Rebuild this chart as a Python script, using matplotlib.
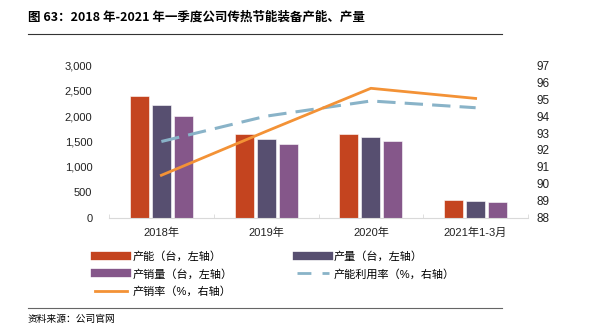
import numpy as np
import matplotlib
matplotlib.use("Agg")
import matplotlib.pyplot as plt
from matplotlib.lines import Line2D

plt.rcParams['font.family'] = ['Liberation Sans', 'Noto Sans CJK SC']

# data
years = ["2018年", "2019年", "2020年", "2021年1-3月"]
capacity = [2390, 1650, 1650, 340]        # 产能（台）
output = [2220, 1545, 1585, 325]          # 产量（台）
sales = [2010, 1445, 1515, 305]           # 产销量（台）
util_rate = [92.5, 94.0, 94.9, 94.5]      # 产能利用率 %
sales_rate = [90.5, 93.1, 95.65, 95.05]   # 产销率 %

c_cap = "#C4441F"
c_out = "#574F70"
c_sal = "#85578A"
c_util = "#89B3C8"
c_rate = "#F39236"

fig = plt.figure(figsize=(6.14, 3.32), dpi=100)
W, H = 614, 332
ax = fig.add_axes([109 / W, 1 - 217.5 / H, (528 - 109) / W, (217.5 - 65.5) / H])
ax2 = ax.twinx()

x = np.arange(len(years))
bw = 0.18
gap = 0.03
ax.bar(x - bw - gap, capacity, bw, color=c_cap, edgecolor="white", linewidth=0.4, zorder=2)
ax.bar(x, output, bw, color=c_out, edgecolor="white", linewidth=0.4, zorder=2)
ax.bar(x + bw + gap, sales, bw, color=c_sal, edgecolor="white", linewidth=0.4, zorder=2)

ax2.plot(x, util_rate, color=c_util, lw=2.2, dashes=(6, 3), zorder=3)
ax2.plot(x, sales_rate, color=c_rate, lw=2.0, zorder=3)

ax.set_xlim(-0.5, 3.5)
ax.set_ylim(0, 3000)
ax.set_yticks(range(0, 3001, 500))
ax.set_yticklabels([f"{v:,}" for v in range(0, 3001, 500)])
ax2.set_ylim(88, 97)
ax2.set_yticks(range(88, 98))

ax.set_xticks(x)
ax.set_xticklabels(years)
ax.set_xticks(np.arange(-0.5, 4, 1), minor=True)
ax.tick_params(axis="x", which="major", length=0, pad=7, labelsize=8, colors="#222222")
ax.tick_params(axis="x", which="minor", length=3, direction="in", color="#d9d9d9")
ax.tick_params(axis="y", length=0, pad=12, labelsize=8, colors="#222222")
ax2.tick_params(axis="y", length=0, pad=6, labelsize=8.5, colors="#222222")

for a in (ax, ax2):
    for s in ["top", "left", "right"]:
        a.spines[s].set_visible(False)
ax.spines["bottom"].set_color("#d9d9d9")
ax2.spines["bottom"].set_visible(False)

handles = [
    Line2D([], [], color=c_cap, lw=6),
    Line2D([], [], color=c_sal, lw=6),
    Line2D([], [], color=c_rate, lw=2),
    Line2D([], [], color=c_out, lw=6),
    Line2D([], [], color=c_util, lw=2, dashes=(5, 4)),
]
labels = ["产能（台，左轴）", "产销量（台，左轴）", "产销率（%，右轴）",
          "产量（台，左轴）", "产能利用率（%，右轴）"]
fig.legend(handles, labels, ncol=2, loc="upper left",
           bbox_to_anchor=(85 / W, 1 - 241 / H), frameon=False,
           fontsize=8, handlelength=2.9, columnspacing=5.8,
           labelspacing=0.62, handletextpad=0.45)

# title, rules, source
fig.text(28 / W, 1 - 17 / H, "图 63：2018 年-2021 年一季度公司传热节能装备产能、产量",
         fontsize=9, fontweight="bold", va="center", ha="left",
         family=['Noto Sans CJK SC'])
fig.add_artist(Line2D([28 / W, 502 / W], [1 - 34 / H, 1 - 34 / H], color="#333333", lw=0.8))
fig.add_artist(Line2D([28 / W, 502 / W], [1 - 308 / H, 1 - 308 / H], color="#666666", lw=0.8))
fig.text(28 / W, 1 - 319 / H, "资料来源：公司官网", fontsize=7, va="center", ha="left",
         family=['Noto Sans CJK SC'])

fig.savefig("out.png", dpi=100)
